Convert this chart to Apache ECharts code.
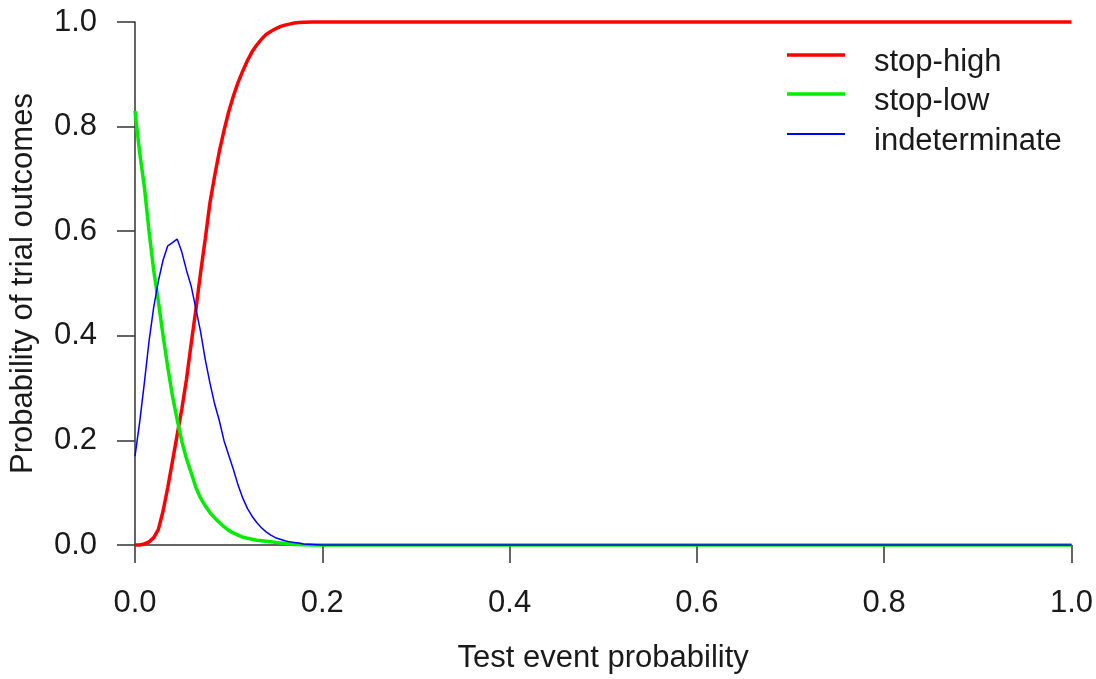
<!DOCTYPE html>
<html>
<head>
<meta charset="utf-8">
<script src="https://cdn.jsdelivr.net/npm/echarts@6/dist/echarts.min.js"></script>
<style>
	html, body { margin: 0; padding: 0; background: #fff; }
	#chart { width: 1096px; height: 679px; }
</style>
</head>
<body>
<div id="chart"></div>
<script>
// test event probability (x) and the three outcome curves
var pGrid = [0, 0.005, 0.01, 0.015, 0.02, 0.025, 0.03, 0.035, 0.04, 0.045,
	0.05, 0.055, 0.06, 0.065, 0.07, 0.075, 0.08, 0.085, 0.09, 0.095,
	0.1, 0.105, 0.11, 0.115, 0.12, 0.125, 0.13, 0.135, 0.14, 0.145,
	0.15, 0.155, 0.16, 0.165, 0.17, 0.175, 0.18, 0.19, 0.2, 1.0];

var stopHigh = [0, 0, 0.002, 0.006, 0.014, 0.03, 0.065, 0.11, 0.16, 0.21,
	0.26, 0.317, 0.385, 0.45, 0.52, 0.585, 0.654, 0.705, 0.752, 0.792,
	0.828, 0.858, 0.884, 0.906, 0.926, 0.943, 0.956, 0.967, 0.976, 0.982,
	0.987, 0.991, 0.994, 0.996, 0.998, 0.999, 0.9995, 1, 1, 1];

var stopLow = [0.83, 0.75, 0.685, 0.6, 0.525, 0.465, 0.4, 0.34, 0.285, 0.24,
	0.198, 0.165, 0.138, 0.11, 0.09, 0.075, 0.062, 0.052, 0.043, 0.035,
	0.028, 0.023, 0.019, 0.015, 0.013, 0.011, 0.009, 0.008, 0.007, 0.006,
	0.005, 0.004, 0.003, 0.002, 0.001, 0.001, 0.0005, 0, 0, 0];

var indeterminate = [0.17, 0.235, 0.31, 0.39, 0.455, 0.505, 0.545, 0.572, 0.578, 0.585,
	0.56, 0.525, 0.495, 0.452, 0.408, 0.355, 0.31, 0.27, 0.238, 0.2,
	0.172, 0.145, 0.115, 0.09, 0.07, 0.055, 0.043, 0.033, 0.025, 0.019,
	0.014, 0.011, 0.008, 0.006, 0.005, 0.004, 0.002, 0.001, 0, 0];

function pairs(ys) {
	return pGrid.map(function(x, i) { return [x, ys[i]]; });
}

var myChart = echarts.init(document.getElementById('chart'));
var fnt = 'Liberation Sans, Arial, sans-serif';
var txt = '#1a1a1a';
var ax = '#333';
var fs = 31;

// two legend blocks so the thin blue line keeps its own thickness
// (text sits a little below the key line, like R's legend)
function legendBlock(names, top, h) {
	return {
		orient: 'vertical',
		left: 782,
		top: top,
		icon: 'rect',
		itemWidth: 58,
		itemHeight: h,
		itemGap: 8,
		formatter: function(name) { return '{t|' + name + '}'; },
		textStyle: {
			fontFamily: fnt, fontSize: fs, color: txt,
			rich: {
				t: {
					fontFamily: fnt, fontSize: fs, color: txt,
					lineHeight: 45, verticalAlign: 'bottom', padding: [0, 0, 0, 24]
				}
			}
		},
		data: names
	};
}

var option = {
	animation: false,
	backgroundColor: '#fff',
	grid: { left: 135, right: 23, top: 22, bottom: 133 },
	legend: [
		legendBlock(['stop-high', 'stop-low'], 41.5, 3.5),
		legendBlock(['indeterminate'], 120.5, 2)
	],
	xAxis: {
		type: 'value',
		min: 0,
		max: 1,
		interval: 0.2,
		name: 'Test event probability',
		nameLocation: 'middle',
		nameGap: 98,
		nameTextStyle: { fontFamily: fnt, fontSize: fs, color: txt },
		splitLine: { show: false },
		axisLine: { show: true, lineStyle: { color: ax, width: 1.5 } },
		axisTick: { show: true, inside: false, length: 18, lineStyle: { color: ax, width: 1.5 } },
		axisLabel: {
			margin: 43,
			fontFamily: fnt, fontSize: fs, color: txt,
			formatter: function(v) { return v.toFixed(1); }
		}
	},
	yAxis: {
		type: 'value',
		min: 0,
		max: 1,
		interval: 0.2,
		name: 'Probability of trial outcomes',
		nameLocation: 'middle',
		nameGap: 96,
		nameTextStyle: { fontFamily: fnt, fontSize: fs, color: txt },
		splitLine: { show: false },
		axisLine: { show: true, lineStyle: { color: ax, width: 1.5 } },
		axisTick: { show: true, inside: false, length: 18, lineStyle: { color: ax, width: 1.5 } },
		axisLabel: {
			margin: 38,
			fontFamily: fnt, fontSize: fs, color: txt,
			formatter: function(v) { return v.toFixed(1); }
		}
	},
	series: [{
		name: 'stop-high',
		type: 'line',
		symbol: 'none',
		clip: false,
		lineStyle: { color: '#ff0000', width: 3.5 },
		itemStyle: { color: '#ff0000' },
		data: pairs(stopHigh)
	}, {
		name: 'stop-low',
		type: 'line',
		symbol: 'none',
		clip: false,
		lineStyle: { color: '#00ee00', width: 3.5 },
		itemStyle: { color: '#00ee00' },
		data: pairs(stopLow)
	}, {
		name: 'indeterminate',
		type: 'line',
		symbol: 'none',
		clip: false,
		lineStyle: { color: '#0000ff', width: 1.5 },
		itemStyle: { color: '#0000ff' },
		data: pairs(indeterminate)
	}]
};

myChart.setOption(option, true);
window.onresize = function() {
	myChart.resize();
};
</script>
</body>
</html>
